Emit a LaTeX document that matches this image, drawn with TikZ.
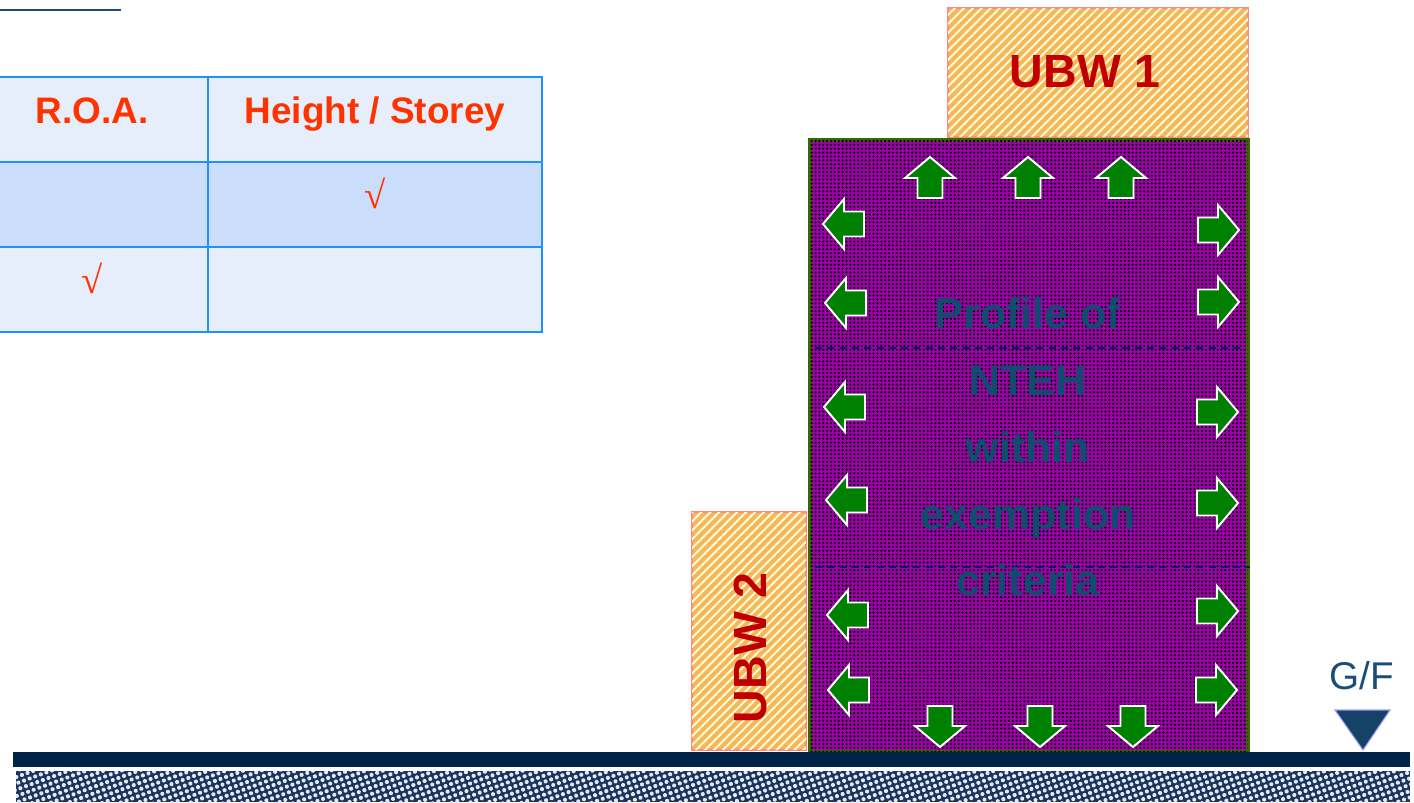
\documentclass[tikz,border=0pt]{standalone}
\usepackage{fontspec}
\setmainfont{Liberation Sans}
\newfontfamily\checkfont{Liberation Serif}
\usetikzlibrary{patterns, patterns.meta}
\definecolor{tableblue}{HTML}{1E90FF}
\definecolor{headfill}{HTML}{E6EEFB}
\definecolor{rowfill}{HTML}{CADEFB}
\definecolor{roared}{HTML}{FF3300}
\definecolor{ubwred}{HTML}{C00000}
\definecolor{ubworange}{HTML}{F6B65A}
\definecolor{ubwedge}{HTML}{FF8A80}
\definecolor{ntehpurple}{HTML}{A000AC}
\definecolor{ntehedge}{HTML}{3A6600}
\definecolor{ntehtext}{HTML}{0F4C6E}
\definecolor{arrowgreen}{HTML}{008000}
\definecolor{groundnavy}{HTML}{00234A}
\definecolor{gfblue}{HTML}{1A4E78}

\begin{document}
\begin{tikzpicture}[x=0.02cm, y=-0.02cm,
    cell/.style={rectangle, draw=tableblue, line width=1.5pt, minimum height=1.7cm, inner sep=0pt},
    headtext/.style={font=\fontsize{21}{25}\selectfont\bfseries, text=roared, anchor=base},
    ticktext/.style={font=\checkfont\fontsize{22}{26}\selectfont, text=roared},
    ubwbox/.style={rectangle, draw=ubwedge, line width=1pt, fill=ubworange, inner sep=0pt,
      postaction={pattern={Lines[angle=45, distance=3.6pt, line width=1.1pt]}, pattern color=yellow!15}},
    ubwtext/.style={font=\fontsize{26.5}{31}\selectfont\bfseries, text=ubwred},
    divline/.style={draw=groundnavy!80!blue, line width=1pt, dash pattern=on 4pt off 3pt},
    pics/fatarrow/.style={code={
      \path[draw=white, line width=1.1pt, fill=arrowgreen, line join=miter]
        (-20,-12.5) -- (0,-12.5) -- (0,-25) -- (21,0) -- (0,25) -- (0,12.5) -- (-20,12.5) -- cycle;}}]

  \useasboundingbox (0,0) rectangle (1414,802);

  % Table
  \begin{scope}
    \clip (0,0) rectangle (1414,802);
    \draw[gfblue, line width=1.1pt] (0,10) -- (121,10);
    \node[cell, minimum width=4.64cm, fill=headfill] (roahead) at (92,119.5) {};
    \node[cell, minimum width=6.68cm, fill=headfill] (hshead) at (375,119.5) {};
    \node[cell, minimum width=4.64cm, fill=rowfill] (roaone) at (92,204.5) {};
    \node[cell, minimum width=6.68cm, fill=rowfill] (hsone) at (375,204.5) {};
    \node[cell, minimum width=4.64cm, fill=headfill] (roatwo) at (92,289.5) {};
    \node[cell, minimum width=6.68cm, fill=headfill] (hstwo) at (375,289.5) {};
  \end{scope}
  \node[headtext] (roalabel) at (92,123) {R.O.A.};
  \node[headtext] (hslabel) at (375,123) {Height / Storey};
  \node[ticktext] (tickone) at (375,193) {√};
  \node[ticktext] (ticktwo) at (92,278) {√};

  % Building block
  \node[rectangle, minimum width=8.76cm, minimum height=12.24cm, inner sep=0pt,
    fill=ntehpurple, draw=ntehedge, line width=2.2pt,
    postaction={pattern={Dots[radius=0.7pt, distance=2.2pt]}, pattern color=black}]
    (nteh) at (1029,446) {};
  \draw[divline] (815,348) -- (1245,348);
  \draw[divline] (815,567) -- (1250,567);

  % Arrows
  \foreach \x in {930,1028,1121} \pic[rotate=90] at (\x,178) {fatarrow};
  \foreach \x in {940,1040,1133} \pic[rotate=-90] at (\x,726) {fatarrow};
  \foreach \y/\x in {224/844,303/846,407/845,500/847,615/848,690/849}
    \pic[rotate=180] at (\x,\y) {fatarrow};
  \foreach \y/\x in {230/1218,302/1218,412/1217,503/1217,611/1217,690/1216}
    \pic at (\x,\y) {fatarrow};

  \node[font=\fontsize{24.5}{38}\selectfont\bfseries, text=ntehtext, align=center] (ntehlabel)
    at (1028,447) {Profile of\\NTEH\\within\\exemption\\criteria};

  % Unauthorized building works
  \node[ubwbox, minimum width=6cm, minimum height=2.58cm] (ubw1) at (1098,72.5) {};
  \node[ubwtext] (ubw1label) at (1085,72) {UBW 1};
  \node[ubwbox, minimum width=2.28cm, minimum height=4.76cm] (ubw2) at (749,631) {};
  \node[ubwtext, rotate=90] (ubw2label) at (750,648) {UBW 2};

  % Ground
  \fill[groundnavy] (13,752) rectangle (1410,767);
  \path[fill=groundnavy!80!gray, postaction={pattern={Dots[radius=1.2pt, distance=3.4pt, angle=20]}, pattern color=blue!10!white}]
    (16,771) rectangle (1410,802);
  \node[font=\fontsize{22}{26}\selectfont, text=gfblue] (gflabel) at (1362,676) {G/F};
  \draw[fill=gfblue!85!black, draw=blue!40!white, line width=0.6pt] (1335,710) -- (1390,710) -- (1363,750) -- cycle;
\end{tikzpicture}
\end{document}
